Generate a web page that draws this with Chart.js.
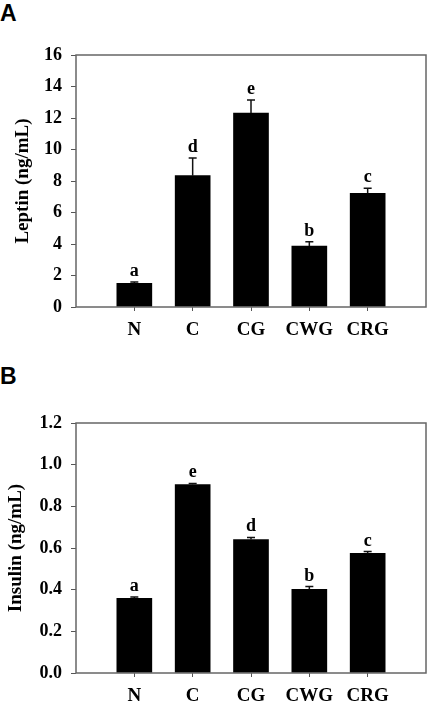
<!DOCTYPE html>
<html>
<head>
<meta charset="utf-8">
<script src="https://cdn.jsdelivr.net/npm/chart.js@4/dist/chart.umd.min.js"></script>
<style>
  body { margin: 0; background: #fff; width: 433px; height: 709px; position: relative; overflow: hidden; }
  .panel { position: absolute; left: 0; font: bold 23px "Liberation Sans", Arial, sans-serif; color: #000; }
  canvas { position: absolute; left: 0; }
</style>
</head>
<body>
<div class="panel" style="top:0px">A</div>
<canvas id="chartA" width="433" height="345" style="top:0"></canvas>
<div class="panel" style="top:363px">B</div>
<canvas id="chartB" width="433" height="349" style="top:360px"></canvas>
<script>
const groups = ['N', 'C', 'CG', 'CWG', 'CRG'];

const leptinMean = [1.50, 8.34, 12.32, 3.87, 7.22];
const leptinErr = [0.09, 1.12, 0.82, 0.28, 0.32];
const leptinLetters = ['a', 'd', 'e', 'b', 'c'];
const leptinTicks = [0, 2, 4, 6, 8, 10, 12, 14, 16];

const insulinMean = [0.359, 0.905, 0.641, 0.402, 0.574];
const insulinErr = [0.006, 0.005, 0.010, 0.013, 0.009];
const insulinLetters = ['a', 'e', 'd', 'b', 'c'];
const insulinTicks = [0, 0.2, 0.4, 0.6, 0.8, 1.0, 1.2];

const serif = '"Liberation Serif", "Times New Roman", serif';

// frame + error bars + significance letters
const extras = {
    id: 'extras',
    afterDatasetsDraw(chart, args, opts) {
        const ctx = chart.ctx;
        const a = chart.chartArea;
        const x = chart.scales.x, y = chart.scales.y;
        ctx.save();
        ctx.strokeStyle = '#111';
        ctx.lineWidth = 1.5;
        opts.mean.forEach((m, i) => {
            const px = x.getPixelForValue(i + 1);
            const top = y.getPixelForValue(m + opts.err[i]);
            ctx.beginPath();
            ctx.moveTo(px, y.getPixelForValue(m));
            ctx.lineTo(px, top);
            ctx.moveTo(px - 4, top);
            ctx.lineTo(px + 4, top);
            ctx.stroke();
            ctx.fillStyle = '#000';
            ctx.font = 'bold 18px ' + serif;
            ctx.textAlign = 'center';
            ctx.textBaseline = 'alphabetic';
            ctx.fillText(opts.letters[i], px, top - 6);
        });
        ctx.strokeStyle = '#666';
        ctx.lineWidth = 1.5;
        ctx.strokeRect(a.left, a.top, a.right - a.left, a.bottom - a.top);
        ctx.restore();
    }
};

function makeChart(id, mean, err, letters, ticks, yTitle, opt) {
    const ctx = document.getElementById(id).getContext('2d');
    return new Chart(ctx, {
        type: 'bar',
        data: {
            datasets: [{
                data: mean.map((v, i) => ({x: i + 1, y: v})),
                backgroundColor: '#000',
                borderWidth: 0,
                barThickness: 35
            }]
        },
        options: {
            responsive: false,
            animation: false,
            layout: {padding: {top: opt.top, right: 7, left: 0, bottom: 0}},
            plugins: {
                legend: {display: false},
                tooltip: {enabled: false},
                extras: {mean: mean, err: err, letters: letters}
            },
            scales: {
                x: {
                    type: 'linear',
                    offset: false,
                    min: 0,
                    max: 6,
                    afterBuildTicks: (s) => { s.ticks = groups.map((g, i) => ({value: i + 1})); },
                    afterFit: (s) => { s.height = opt.xh; },
                    border: {display: false},
                    grid: {drawOnChartArea: false, offset: false, tickLength: 4, color: '#555'},
                    ticks: {
                        autoSkip: false,
                        maxRotation: 0,
                        padding: 8,
                        color: '#000',
                        font: {family: serif, size: 19, weight: 'bold'},
                        callback: (v, i) => groups[i]
                    }
                },
                y: {
                    min: ticks[0],
                    max: ticks[ticks.length - 1],
                    afterBuildTicks: (s) => { s.ticks = ticks.map(v => ({value: v})); },
                    afterFit: (s) => { s.width = 76; },
                    border: {display: false},
                    grid: {drawOnChartArea: false, tickLength: 5, color: '#555'},
                    title: {
                        display: true,
                        text: yTitle,
                        color: '#000',
                        padding: {top: opt.titlePad, bottom: 0},
                        font: {family: serif, size: 19, weight: 'bold'}
                    },
                    ticks: {
                        padding: 9,
                        color: '#000',
                        font: {family: serif, size: 18, weight: 'bold'},
                        callback: (v) => opt.dec ? v.toFixed(1) : v
                    }
                }
            }
        },
        plugins: [extras]
    });
}

window.onload = () => {
    makeChart('chartA', leptinMean, leptinErr, leptinLetters, leptinTicks, 'Leptin (ng/mL)',
        {top: 55, xh: 38, titlePad: 12, dec: false});
    makeChart('chartB', insulinMean, insulinErr, insulinLetters, insulinTicks, 'Insulin (ng/mL)',
        {top: 63, xh: 36, titlePad: 5, dec: true});
};
</script>
</body>
</html>
